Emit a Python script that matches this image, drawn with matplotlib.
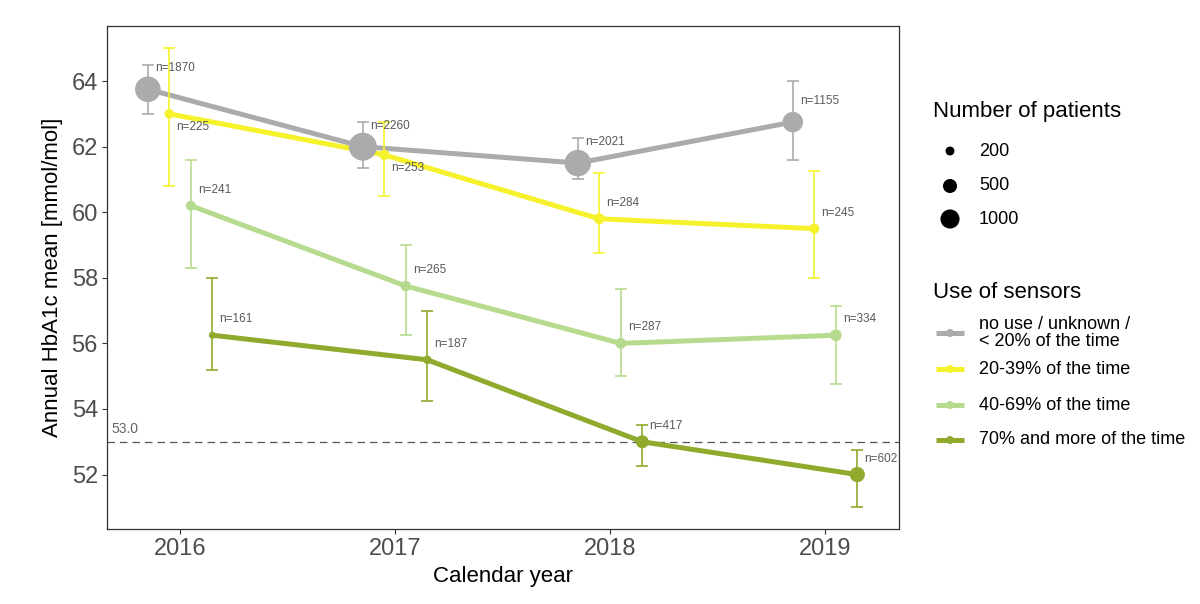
import numpy as np
import matplotlib
matplotlib.use("Agg")
import matplotlib.pyplot as plt
from matplotlib.lines import Line2D

plt.rcParams['font.family'] = ['Liberation Sans', 'DejaVu Sans']

# ---- data ----
years = [2016, 2017, 2018, 2019]
groups = ["no use / unknown /\n< 20% of the time", "20-39% of the time",
          "40-69% of the time", "70% and more of the time"]

gray_mean = [63.75, 62.0, 61.5, 62.75]
gray_lo = [63.0, 61.35, 61.0, 61.6]
gray_hi = [64.5, 62.75, 62.25, 64.0]
gray_n = [1870, 2260, 2021, 1155]

yellow_mean = [63.0, 61.75, 59.8, 59.5]
yellow_lo = [60.8, 60.5, 58.75, 58.0]
yellow_hi = [65.0, 62.75, 61.2, 61.25]
yellow_n = [225, 253, 284, 245]

lgreen_mean = [60.2, 57.75, 56.0, 56.25]
lgreen_lo = [58.3, 56.25, 55.0, 54.75]
lgreen_hi = [61.6, 59.0, 57.65, 57.15]
lgreen_n = [241, 265, 287, 334]

dgreen_mean = [56.25, 55.5, 53.0, 52.0]
dgreen_lo = [55.2, 54.25, 52.25, 51.0]
dgreen_hi = [58.0, 57.0, 53.5, 52.75]
dgreen_n = [161, 187, 417, 602]

target = 53.0
size_breaks = [200, 500, 1000]

# ---- style ----
colors = ["#ABABAB", "#F5F22C", "#B7DB8E", "#8FAA2C"]
dodge = [-0.15, -0.05, 0.05, 0.15]
label_dy = [[-21] * 4, [13, 13, -16, -16], [-16] * 4, [-16] * 4]  # pixels

series = [
    (gray_mean, gray_lo, gray_hi, gray_n),
    (yellow_mean, yellow_lo, yellow_hi, yellow_n),
    (lgreen_mean, lgreen_lo, lgreen_hi, lgreen_n),
    (dgreen_mean, dgreen_lo, dgreen_hi, dgreen_n),
]
all_n = np.concatenate([np.array(s[3]) for s in series])
nmin, nmax = all_n.min(), all_n.max()
PX = 0.72  # points per pixel at dpi 100


def diam_px(n):
    s = np.clip((np.asarray(n, float) - nmin) / (nmax - nmin), 0, 1)
    return 7 + 21 * s ** 0.6


fig = plt.figure(figsize=(12, 6.04), dpi=100)
W, H = 1200, 604
ax = fig.add_axes([107 / W, 1 - 529 / H, (899 - 107) / W, (529 - 26) / H])

for i, (m, lo, hi, n) in enumerate(series):
    x = np.array(years) + dodge[i]
    m = np.array(m)
    ax.plot(x, m, color=colors[i], lw=3.6, zorder=2, solid_capstyle='butt')
for i, (m, lo, hi, n) in enumerate(series):
    x = np.array(years) + dodge[i]
    m = np.array(m)
    ax.errorbar(x, m, yerr=[m - np.array(lo), np.array(hi) - m], fmt='none',
                ecolor=colors[i], elinewidth=1.2, capsize=4, capthick=1.2, zorder=3)
for i, (m, lo, hi, n) in enumerate(series):
    x = np.array(years) + dodge[i]
    ax.scatter(x, m, s=(diam_px(n) * PX) ** 2, color=colors[i], edgecolors='none',
               zorder=4)
    for xi, yi, ni, dy in zip(x, m, n, label_dy[i]):
        ax.annotate(f"n={ni}", (xi, yi), xytext=(7 * PX, -dy * PX),
                    textcoords='offset points', ha='left', va='center',
                    fontsize=8.5, color='#595959', zorder=5)

ax.axhline(target, color='#555555', lw=0.9, ls=(0, (6, 4)), zorder=1)
ax.annotate(f"{target:.1f}", (2015.66, target), xytext=(3, 9),
            textcoords='offset points', ha='left', va='center',
            fontsize=10, color='#666666')

ax.set_xlim(2015.66, 2019.344)
ax.set_ylim(50.34, 65.68)
ax.set_xticks(years)
ax.set_yticks([52, 54, 56, 58, 60, 62, 64])
ax.tick_params(axis='both', length=3.5, width=0.8, color='#333333',
               labelsize=17, labelcolor='#4D4D4D', pad=3)
for sp in ax.spines.values():
    sp.set_color('#333333')
    sp.set_linewidth(0.9)
ax.set_xlabel("Calendar year", fontsize=16, color='black', labelpad=4)
ax.set_ylabel("Annual HbA1c mean [mmol/mol]", fontsize=16, color='black', labelpad=6)

# ---- legends drawn in an overlay in pixel coordinates ----
lax = fig.add_axes([0, 0, 1, 1])
lax.set_xlim(0, W)
lax.set_ylim(H, 0)
lax.axis('off')

lax.text(933, 112, "Number of patients", fontsize=16, va='center', ha='left')
for b, yy in zip(size_breaks, [151, 186, 219]):
    lax.scatter([950], [yy], s=(diam_px(b) * PX) ** 2, color='black', edgecolors='none')
    lax.text(979, yy, str(b), fontsize=13, va='center', ha='left')

lax.text(933, 293, "Use of sensors", fontsize=16, va='center', ha='left')
for i, (g, yy) in enumerate(zip(groups, [333, 369, 405, 440])):
    lax.plot([936, 964], [yy, yy], color=colors[i], lw=3.6, solid_capstyle='butt')
    lax.scatter([950], [yy], s=(8 * PX) ** 2, color=colors[i], edgecolors='none')
    lax.text(979, yy, g, fontsize=13, va='center', ha='left', linespacing=1.0)

fig.savefig("out.png", dpi=100)
